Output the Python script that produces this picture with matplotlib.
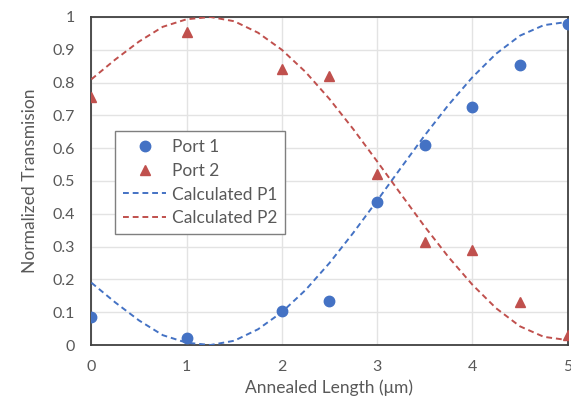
import numpy as np
import matplotlib.pyplot as plt

plt.rcParams['font.family'] = ['Lato', 'DejaVu Sans']

# measured points
length = [0, 1, 2, 2.5, 3, 3.5, 4, 4.5, 5]
port1 = [0.085, 0.02, 0.105, 0.135, 0.435, 0.61, 0.725, 0.855, 0.98]
port2 = [0.755, 0.955, 0.84, 0.82, 0.52, 0.315, 0.29, 0.13, 0.03]

# calculated curves
calc_x = [0, 0.25, 0.5, 0.75, 1.0, 1.25, 1.5, 1.75, 2.0, 2.25, 2.5,
          2.75, 3.0, 3.25, 3.5, 3.75, 4.0, 4.25, 4.5, 4.75, 5.0]
calc_p1 = [0.19, 0.13, 0.075, 0.03, 0.007, 0.0, 0.013, 0.048, 0.10, 0.168, 0.25,
           0.342, 0.44, 0.54, 0.639, 0.732, 0.816, 0.888, 0.943, 0.975, 0.985]
calc_p2 = [0.81, 0.87, 0.925, 0.97, 0.993, 1.0, 0.987, 0.952, 0.90, 0.832, 0.75,
           0.658, 0.56, 0.46, 0.361, 0.268, 0.184, 0.112, 0.057, 0.025, 0.015]

blue = '#4472C4'
red = '#C0504D'
grey = '#595959'

fig, ax = plt.subplots(figsize=(5.71, 4.04), dpi=100)
fig.subplots_adjust(left=0.16, right=0.994, top=0.958, bottom=0.146)

ax.plot(length, port1, 'o', color=blue, markersize=7.5, label='Port 1', zorder=4)
ax.plot(length, port2, '^', color=red, markersize=7.5, label='Port 2', zorder=4)
ax.plot(calc_x, calc_p1, '--', color=blue, lw=1.4, dashes=(3, 2), label='Calculated P1', zorder=3)
ax.plot(calc_x, calc_p2, '--', color=red, lw=1.4, dashes=(3, 2), label='Calculated P2', zorder=3)

ax.set_xlim(0, 5)
ax.set_ylim(0, 1)
ax.set_xticks(range(6))
ax.set_yticks(np.arange(0, 1.01, 0.1), ['0', '0.1', '0.2', '0.3', '0.4', '0.5',
                                        '0.6', '0.7', '0.8', '0.9', '1'])
ax.grid(True, color='#E3E3E3', lw=1)
ax.set_axisbelow(True)
ax.tick_params(length=0, labelsize=11.5, labelcolor=grey)
ax.tick_params(axis='x', pad=11)
ax.tick_params(axis='y', pad=12)
for s in ax.spines.values():
    s.set_color('#404040')
    s.set_linewidth(1.3)

ax.set_xlabel('Annealed Length (\u03bcm)', fontsize=12.5, color=grey, labelpad=4)
ax.set_ylabel('Normalized Transmision', fontsize=12.5, color=grey, labelpad=10)

leg = ax.legend(loc='upper left', bbox_to_anchor=(0.05, 0.652), fontsize=12.5,
                fancybox=False, edgecolor='#7F7F7F', framealpha=1,
                handlelength=2.5, handletextpad=0.3, labelspacing=0.45,
                borderpad=0.45, borderaxespad=0)
for t in leg.get_texts():
    t.set_color(grey)

fig.savefig('out.png', dpi=100)
